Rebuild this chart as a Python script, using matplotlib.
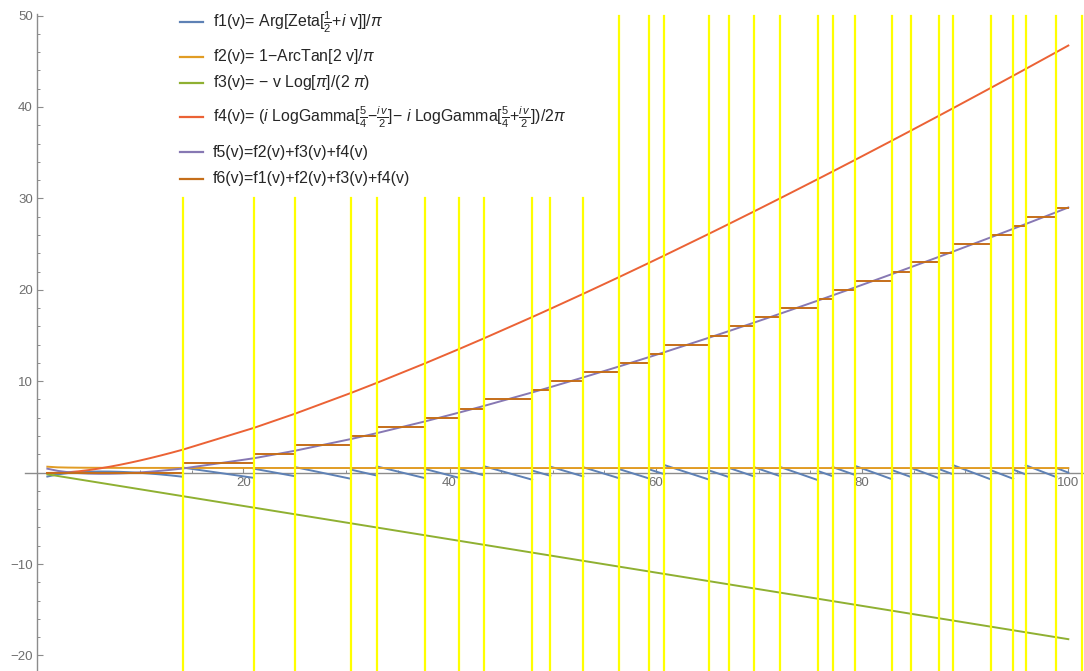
import numpy as np
import matplotlib
matplotlib.use("Agg")
import matplotlib.pyplot as plt
from matplotlib.ticker import FixedLocator
from matplotlib.lines import Line2D

# non-trivial zeta zeros (imaginary parts), used for the yellow markers
zeros = [14.1347, 21.0220, 25.0109, 30.4249, 32.9351, 37.5862, 40.9187, 43.3271,
         48.0052, 49.7738, 52.9703, 56.4462, 59.3470, 60.8318, 65.1125, 67.0798,
         69.5464, 72.0672, 75.7047, 77.1448, 79.3374, 82.9104, 84.7355, 87.4253,
         88.8091, 92.4919, 94.6513, 95.8706, 98.8312, 101.3178]

# sample points for the smooth curves
v_pts = [1, 2, 3, 4, 5, 6, 7, 8, 9, 10, 11, 12, 13] + zeros[:29] + [100]

f5_vals = [0.4304, 0.1957, 0.0468, -0.0474, -0.1012, -0.1229, -0.1178, -0.0899,
           -0.0419, 0.0237, 0.1053, 0.2014, 0.3108,
           0.4497, 1.5702, 2.3936, 3.6711, 4.3173, 5.5935, 6.5652, 7.2946, 8.7708,
           9.3483, 10.4172, 11.6143, 12.6395, 13.1735, 14.7433, 15.4797, 16.4171,
           17.3889, 18.8154, 19.3880, 20.2679, 21.7226, 22.4752, 23.5956, 24.1773,
           25.7416, 26.6700, 27.1975, 28.4887,
           29.0024]

f4_vals = [-0.0350, -0.0179, 0.0408, 0.1418, 0.2781, 0.4437, 0.6348, 0.8477,
           1.0801, 1.3297, 1.5949, 1.8744, 2.1671,
           2.5136, 4.8926, 6.4439, 8.7090, 9.8130, 11.9371, 13.5163, 14.6847,
           17.0136, 17.9134, 19.5649, 21.3955, 22.9492, 23.7538, 26.1037, 27.1985,
           28.5854, 30.0165, 32.1058, 32.9408, 34.2203, 36.3260, 37.4111, 39.0217,
           39.8555, 42.0910, 43.4128, 44.1624, 45.9931,
           46.7198]

f2_v = [1, 2, 3, 4, 5, 6, 8, 10, 15, 20, 30, 50, 100]
f2_vals = [0.648, 0.578, 0.553, 0.540, 0.532, 0.527, 0.520, 0.516, 0.511, 0.508,
           0.505, 0.503, 0.502]

f3_v = [1, 100]
f3_vals = [-0.182, -18.219]

labels = [
    r"f1(v)= Arg[Zeta[$\frac{1}{2}$+$\mathit{i}$ v]]/$\pi$",
    r"f2(v)= 1−ArcTan[2 v]/$\pi$",
    r"f3(v)= − v Log[$\pi$]/(2 $\pi$)",
    r"f4(v)= ($\mathit{i}$ LogGamma[$\frac{5}{4}$−$\frac{\mathit{i}\,v}{2}$]− $\mathit{i}$ LogGamma[$\frac{5}{4}$+$\frac{\mathit{i}\,v}{2}$])/2$\pi$",
    "f5(v)=f2(v)+f3(v)+f4(v)",
    "f6(v)=f1(v)+f2(v)+f3(v)+f4(v)",
]

colors = ["#5E81B5", "#E19C24", "#8FB032", "#EB6235", "#8778B3", "#C56E1A"]

plt.rcParams['font.family'] = ['Liberation Sans', 'DejaVu Sans']
plt.rcParams['mathtext.fontset'] = 'custom'
plt.rcParams['mathtext.rm'] = 'Liberation Sans'
plt.rcParams['mathtext.it'] = 'Liberation Sans:italic'
plt.rcParams['mathtext.bf'] = 'Liberation Sans:bold'

fig = plt.figure(figsize=(10.84, 6.71), dpi=100)
ax = fig.add_axes([0, 0, 1, 1])
ax.set_xlim(-3.59, 101.52)
ax.set_ylim(-21.7, 51.7)

v = np.array(v_pts)
f5 = np.array(f5_vals)

# f1 and f6 are piecewise between zeros
f1_x, f1_y, f6_x, f6_y = [], [], [], []
edges = [1] + zeros[:29] + [100]
for k in range(len(edges) - 1):
    m = (v >= edges[k] - 1e-9) & (v <= edges[k + 1] + 1e-9)
    f1_x += list(v[m]) + [np.nan]
    f1_y += list(k - f5[m]) + [np.nan]
    f6_x += [edges[k], edges[k + 1], np.nan]
    f6_y += [k, k, np.nan]

lw = 1.4
ax.plot(f1_x, f1_y, color=colors[0], lw=lw, zorder=3)
ax.plot(f2_v, f2_vals, color=colors[1], lw=lw, zorder=3)
ax.plot(f3_v, f3_vals, color=colors[2], lw=lw, zorder=3)
ax.plot(v_pts, f4_vals, color=colors[3], lw=lw, zorder=3)
ax.plot(v_pts, f5_vals, color=colors[4], lw=lw, zorder=3)
ax.plot(f6_x, f6_y, color=colors[5], lw=lw, zorder=3)

for z in zeros:
    top = 50 if z > 55 else 30
    ax.plot([z, z], [-30, top], color="#FFFF00", lw=1.6, zorder=4)

# Mathematica-like axes through the origin
for s in ['top', 'right']:
    ax.spines[s].set_visible(False)
ax.spines['left'].set_position(('data', 0))
ax.spines['bottom'].set_position(('data', 0))
ax.spines['left'].set_bounds(-21.7, 50.2)
ax.spines['bottom'].set_bounds(-1.2, 101.52)
for s in ['left', 'bottom']:
    ax.spines[s].set_color('#8c8c8c')
    ax.spines[s].set_linewidth(1.0)
    ax.spines[s].set_zorder(2)

ax.xaxis.set_major_locator(FixedLocator([20, 40, 60, 80, 100]))
ax.xaxis.set_minor_locator(FixedLocator([5, 10, 15, 25, 30, 35, 45, 50, 55, 65, 70, 75, 85, 90, 95]))
ax.yaxis.set_major_locator(FixedLocator([-20, -10, 10, 20, 30, 40, 50]))
ax.yaxis.set_minor_locator(FixedLocator([y for y in range(-20, 51, 2) if y % 10 != 0]))
ax.tick_params(which='major', direction='in', length=4, width=0.8, color='#8c8c8c',
               labelcolor='#6e6e6e', labelsize=9.5)
ax.tick_params(which='minor', direction='in', length=2.3, width=0.7, color='#8c8c8c')
ax.tick_params(axis='x', pad=3)
ax.tick_params(axis='y', pad=3)
ax.set_xticklabels(['20', '40', '60', '80', '100'])
ax.set_yticklabels(['−20', '−10', '10', '20', '30', '40', '50'])

# legend drawn by hand at the top left
W, H = 1084, 671
rows = [22, 57, 83, 117, 152, 179]
for c, lab, y in zip(colors, labels, rows):
    fig.add_artist(Line2D([180 / W, 203 / W], [1 - y / H, 1 - y / H], color=c, lw=1.6,
                          transform=fig.transFigure))
    fig.text(213 / W, 1 - y / H, lab, fontsize=11.4, color='#262626', va='center', ha='left')

fig.savefig("out.png", dpi=100)
